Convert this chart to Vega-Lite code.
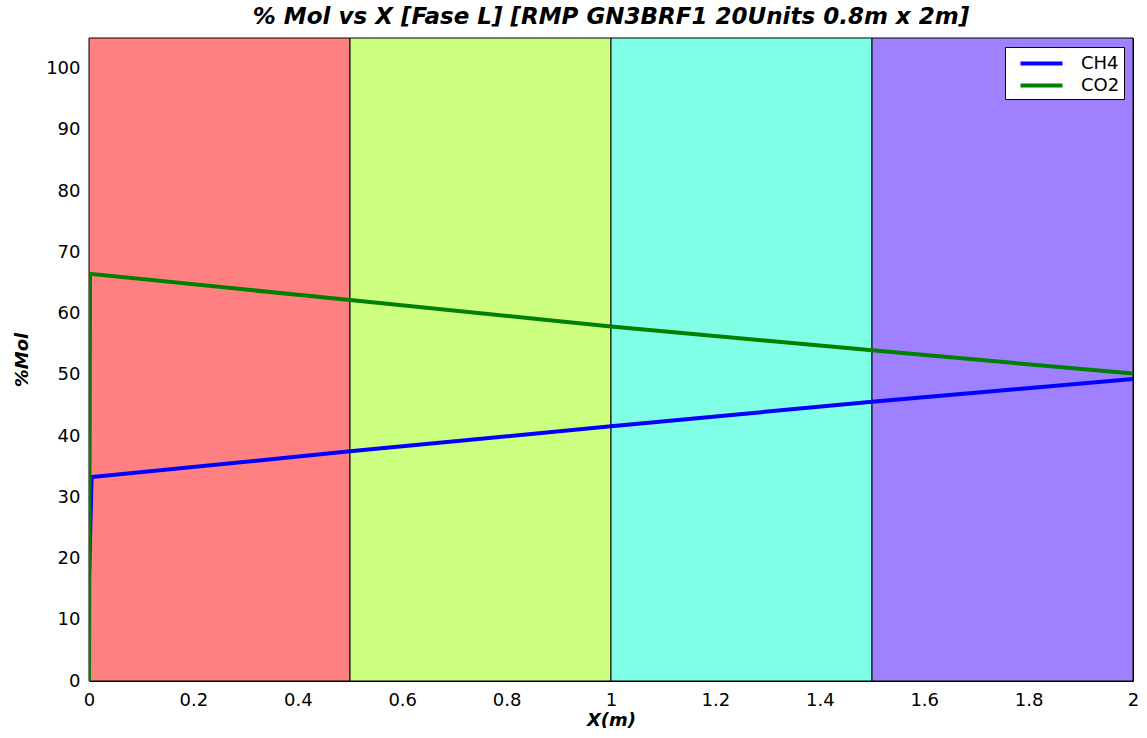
{
  "$schema": "https://vega.github.io/schema/vega-lite/v6.json",
  "width": 1044,
  "height": 643,
  "autosize": "none",
  "padding": {"left": 89, "top": 38, "right": 14, "bottom": 57},
  "background": "white",
  "title": {
    "text": "% Mol vs X [Fase L] [RMP GN3BRF1 20Units 0.8m x 2m]",
    "font": "DejaVu Sans",
    "fontSize": 23,
    "fontWeight": "bold",
    "fontStyle": "italic",
    "color": "black",
    "offset": 9,
    "anchor": "middle"
  },
  "config": {
    "view": {"stroke": "black", "strokeWidth": 1},
    "axis": {
      "labelFont": "DejaVu Sans",
      "labelFontSize": 18,
      "labelColor": "black",
      "titleFont": "DejaVu Sans",
      "titleFontSize": 18,
      "titleFontWeight": "bold",
      "titleFontStyle": "italic",
      "titleColor": "black",
      "grid": false,
      "domain": false,
      "ticks": false
    }
  },
  "datasets": {
    "zones": [
      {"zone": "A", "x0": 0, "x1": 0.5},
      {"zone": "B", "x0": 0.5, "x1": 1},
      {"zone": "C", "x0": 1, "x1": 1.5},
      {"zone": "D", "x0": 1.5, "x1": 2}
    ],
    "series": [
      {"gas": "CH4", "x": 0.0, "y": 16.7},
      {"gas": "CH4", "x": 0.005, "y": 33.3},
      {"gas": "CH4", "x": 0.5, "y": 37.5},
      {"gas": "CH4", "x": 1.0, "y": 41.6},
      {"gas": "CH4", "x": 1.5, "y": 45.6},
      {"gas": "CH4", "x": 2.0, "y": 49.3},
      {"gas": "CO2", "x": 0.0, "y": 0},
      {"gas": "CO2", "x": 0.002, "y": 66.5},
      {"gas": "CO2", "x": 0.5, "y": 62.2},
      {"gas": "CO2", "x": 1.0, "y": 57.9},
      {"gas": "CO2", "x": 1.5, "y": 54.0},
      {"gas": "CO2", "x": 2.0, "y": 50.2}
    ]
  },
  "layer": [
    {
      "data": {"name": "zones"},
      "mark": {"type": "rect", "stroke": "black", "strokeWidth": 1},
      "encoding": {
        "x": {"field": "x0", "type": "quantitative", "scale": {"domain": [0, 2], "nice": false},
              "axis": {"title": "X(m)", "values": [0, 0.2, 0.4, 0.6, 0.8, 1, 1.2, 1.4, 1.6, 1.8, 2], "format": "~g", "labelFlush": false, "labelPadding": 10, "titlePadding": 2}},
        "x2": {"field": "x1"},
        "y": {"datum": 0, "type": "quantitative", "scale": {"domain": [0, 105], "nice": false},
              "axis": {"title": "%Mol", "values": [0, 10, 20, 30, 40, 50, 60, 70, 80, 90, 100], "labelPadding": 9, "titlePadding": 14}},
        "y2": {"datum": 105},
        "fill": {"field": "zone", "type": "nominal", "legend": null,
                 "scale": {"domain": ["A", "B", "C", "D"], "range": ["#ff8080", "#ccff80", "#80ffe6", "#9f80ff"]}}
      }
    },
    {
      "data": {"name": "series"},
      "mark": {"type": "line", "strokeWidth": 4, "clip": true},
      "encoding": {
        "x": {"field": "x", "type": "quantitative"},
        "y": {"field": "y", "type": "quantitative"},
        "color": {"field": "gas", "type": "nominal",
                  "scale": {"domain": ["CH4", "CO2"], "range": ["#0000ff", "#008000"]},
                  "legend": {"title": null, "orient": "top-right", "offset": 9,
                             "fillColor": "white", "strokeColor": "black", "padding": 4,
                             "symbolType": "M-2,0H2", "symbolStrokeWidth": 4, "symbolSize": 441,
                             "symbolOffset": 20,
                             "labelFont": "DejaVu Sans", "labelFontSize": 18, "labelColor": "black",
                             "labelOffset": 27, "rowPadding": 0}}
      }
    }
  ],
  "resolve": {"scale": {"color": "independent"}}
}
